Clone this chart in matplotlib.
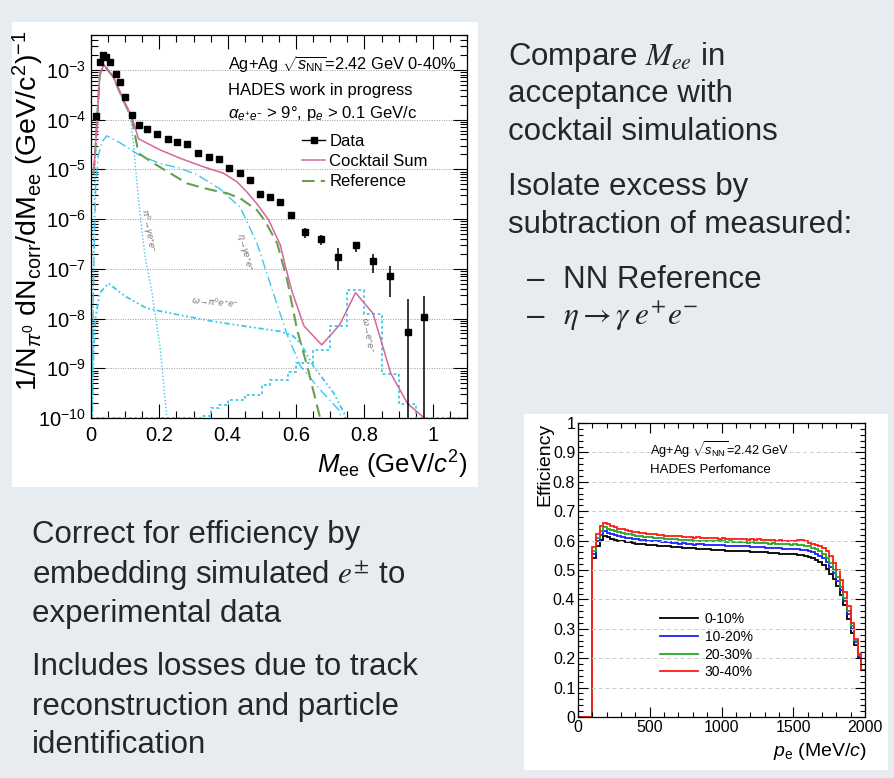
import matplotlib
matplotlib.use('Agg')
import matplotlib.pyplot as plt
from matplotlib.patches import Rectangle
from matplotlib.lines import Line2D
from matplotlib.ticker import MultipleLocator, LogLocator, NullFormatter, FuncFormatter
import numpy as np

plt.rcParams['font.family'] = ['Liberation Sans', 'DejaVu Sans']
plt.rcParams['mathtext.fontset'] = 'custom'
plt.rcParams['mathtext.rm'] = 'Liberation Sans'
plt.rcParams['mathtext.it'] = 'Liberation Sans:italic'
plt.rcParams['mathtext.bf'] = 'Liberation Sans:bold'
plt.rcParams['mathtext.sf'] = 'Liberation Sans'

# ---------------- data: dielectron invariant mass ----------------
data_m = [0.015, 0.025, 0.035, 0.045, 0.057, 0.073, 0.085, 0.100, 0.121, 0.139,
          0.165, 0.194, 0.224, 0.253, 0.282, 0.313, 0.344, 0.374, 0.404, 0.435,
          0.464, 0.494, 0.523, 0.554, 0.584, 0.625, 0.673, 0.723, 0.774, 0.824,
          0.875, 0.926, 0.975]
data_v = [1.17e-4, 1.45e-3, 2.0e-3, 1.78e-3, 1.41e-3, 8.1e-4, 5.6e-4, 2.9e-4, 1.26e-4, 7.8e-5,
          6.5e-5, 5.1e-5, 4.1e-5, 3.6e-5, 3.2e-5, 2.1e-5, 1.8e-5, 1.6e-5, 1.07e-5, 8.3e-6,
          6.2e-6, 3.2e-6, 2.8e-6, 2.24e-6, 1.2e-6, 5.4e-7, 3.9e-7, 1.7e-7, 2.95e-7, 1.45e-7,
          7.2e-8, 5.4e-9, 1.05e-8]
err_m = [0.584, 0.625, 0.673, 0.723, 0.774, 0.824, 0.875, 0.926, 0.975]
err_lo = [1.0e-6, 4.2e-7, 2.95e-7, 9.5e-8, 2.2e-7, 8.3e-8, 2.75e-8, 1e-11, 1e-11]
err_hi = [1.41e-6, 6.6e-7, 4.7e-7, 2.6e-7, 3.5e-7, 2.0e-7, 1.15e-7, 2.45e-8, 2.8e-8]

sum_m = [0.007, 0.012, 0.026, 0.038, 0.065, 0.095, 0.119, 0.139, 0.202, 0.261,
         0.329, 0.388, 0.427, 0.456, 0.486, 0.520, 0.554, 0.569, 0.588, 0.623,
         0.675, 0.727, 0.774, 0.825, 0.877, 0.926, 0.975]
sum_v = [8.3e-6, 2.1e-5, 8.5e-4, 1.26e-3, 7.4e-4, 2.5e-4, 1.15e-4, 4.1e-5, 2.45e-5, 1.66e-5,
         1.12e-5, 8.3e-6, 5.6e-6, 3.5e-6, 2.0e-6, 9.5e-7, 3.0e-7, 1.1e-7, 3.5e-8, 7.1e-9,
         2.95e-9, 7.4e-9, 3.3e-8, 1.26e-8, 7.9e-10, 1.95e-10, 1.0e-10]

ref_m = [0.007, 0.012, 0.026, 0.038, 0.065, 0.095, 0.119, 0.139, 0.183, 0.232,
         0.281, 0.329, 0.378, 0.398, 0.437, 0.486, 0.510, 0.545, 0.574, 0.603,
         0.633, 0.667, 0.680]
ref_v = [8.0e-6, 2.0e-5, 8.3e-4, 1.23e-3, 7.2e-4, 2.4e-4, 1.1e-4, 2.1e-5, 1.32e-5, 8.3e-6,
         5.2e-6, 4.2e-6, 3.5e-6, 3.3e-6, 2.6e-6, 1.5e-6, 8.9e-7, 3.2e-7, 5.9e-8, 5.9e-9,
         1.07e-9, 1.23e-10, 5e-11]

pi0_m = [0.002, 0.006, 0.010, 0.015, 0.020, 0.026, 0.036, 0.045, 0.065, 0.095,
         0.115, 0.124, 0.132, 0.139, 0.149, 0.158, 0.178, 0.202, 0.222, 0.226]
pi0_v = [6e-11, 3.2e-8, 3.2e-6, 6.3e-5, 2.8e-4, 7.6e-4, 1.2e-3, 1.17e-3, 6.9e-4, 2.3e-4,
         1.12e-4, 3.5e-5, 7.9e-6, 2.5e-6, 5.6e-7, 1.8e-7, 3.5e-8, 2.7e-9, 1.0e-10, 5e-11]

eta_m = [0.003, 0.008, 0.014, 0.022, 0.032, 0.046, 0.085, 0.140, 0.200, 0.260,
         0.310, 0.378, 0.437, 0.486, 0.529, 0.574, 0.613, 0.672, 0.725, 0.742]
eta_v = [6e-11, 1e-7, 5e-6, 2.0e-5, 3.5e-5, 4.7e-5, 3.4e-5, 1.95e-5, 1.32e-5, 1.05e-5,
         7.8e-6, 4.0e-6, 1.7e-6, 3.2e-7, 4.0e-8, 4.7e-9, 1.1e-9, 3.6e-10, 1.45e-10, 6e-11]

omdal_m = [0.003, 0.008, 0.013, 0.025, 0.051, 0.100, 0.163, 0.261, 0.359, 0.456,
           0.554, 0.590, 0.613, 0.652, 0.711, 0.741, 0.750]
omdal_v = [6e-11, 2.5e-9, 1.0e-8, 3.2e-8, 5.1e-8, 2.8e-8, 1.6e-8, 1.17e-8, 8.7e-9, 6.9e-9,
           5.5e-9, 4.5e-9, 3.2e-9, 1.07e-9, 3.1e-10, 1.23e-10, 6e-11]

omee_edges = [0.0, 0.325, 0.35, 0.375, 0.40, 0.425, 0.45, 0.475, 0.50, 0.525, 0.55,
              0.575, 0.60, 0.625, 0.65, 0.70, 0.75, 0.80, 0.85, 0.90, 0.95, 1.10]
omee_v = [1e-10, 1.1e-10, 1.6e-10, 1.8e-10, 2.3e-10, 2.3e-10, 2.9e-10, 2.9e-10, 4.6e-10,
          5.8e-10, 5.8e-10, 8.5e-10, 1.26e-9, 1.26e-9, 2.3e-9, 7.1e-9, 3.7e-8, 1.26e-8,
          7.6e-10, 1.9e-10, 1e-10]

# ---------------- data: efficiency vs momentum ----------------
p_edges = list(range(0, 2001, 25))
eff_labels = ['0-10%', '10-20%', '20-30%', '30-40%']
eff_0_10 = [0, 0, 0, 0,
    0.540, 0.580, 0.602, 0.616, 0.611, 0.606, 0.602, 0.600, 0.598, 0.596,
    0.594, 0.592, 0.590, 0.589, 0.587, 0.586, 0.585, 0.584, 0.583, 0.582,
    0.581, 0.580, 0.579, 0.578, 0.577, 0.576, 0.575, 0.574, 0.574, 0.572,
    0.572, 0.571, 0.570, 0.569, 0.568, 0.568, 0.567, 0.566, 0.566, 0.565,
    0.565, 0.564, 0.563, 0.563, 0.562, 0.562, 0.561, 0.560, 0.560, 0.559,
    0.558, 0.557, 0.556, 0.556, 0.555, 0.554, 0.553, 0.551, 0.550, 0.548,
    0.545, 0.541, 0.535, 0.528, 0.518, 0.505, 0.488, 0.468, 0.445, 0.415,
    0.380, 0.335, 0.285, 0.245, 0.200, 0.160]
eff_10_20 = [0, 0, 0, 0,
    0.555, 0.598, 0.620, 0.631, 0.627, 0.622, 0.618, 0.615, 0.612, 0.610,
    0.608, 0.606, 0.605, 0.603, 0.601, 0.600, 0.599, 0.597, 0.598, 0.596,
    0.594, 0.595, 0.593, 0.592, 0.590, 0.591, 0.589, 0.588, 0.586, 0.588,
    0.587, 0.586, 0.585, 0.586, 0.584, 0.585, 0.584, 0.583, 0.582, 0.583,
    0.582, 0.580, 0.581, 0.580, 0.579, 0.578, 0.578, 0.577, 0.576, 0.576,
    0.575, 0.574, 0.574, 0.573, 0.572, 0.571, 0.571, 0.570, 0.568, 0.567,
    0.565, 0.561, 0.556, 0.549, 0.540, 0.527, 0.510, 0.489, 0.464, 0.432,
    0.395, 0.350, 0.300, 0.255, 0.205, 0.160]
eff_20_30 = [0, 0, 0, 0,
    0.565, 0.610, 0.633, 0.645, 0.641, 0.636, 0.632, 0.628, 0.626, 0.623,
    0.621, 0.619, 0.617, 0.615, 0.613, 0.612, 0.611, 0.610, 0.608, 0.608,
    0.607, 0.605, 0.605, 0.604, 0.603, 0.602, 0.601, 0.601, 0.600, 0.599,
    0.600, 0.598, 0.597, 0.599, 0.598, 0.597, 0.599, 0.596, 0.597, 0.595,
    0.596, 0.594, 0.595, 0.593, 0.594, 0.592, 0.593, 0.591, 0.592, 0.590,
    0.591, 0.589, 0.590, 0.588, 0.587, 0.586, 0.587, 0.585, 0.584, 0.583,
    0.580, 0.576, 0.571, 0.564, 0.555, 0.541, 0.523, 0.501, 0.475, 0.443,
    0.405, 0.360, 0.310, 0.262, 0.210, 0.160]
eff_30_40 = [0, 0, 0, 0,
    0.578, 0.622, 0.648, 0.659, 0.657, 0.650, 0.645, 0.641, 0.638, 0.635,
    0.632, 0.630, 0.628, 0.626, 0.625, 0.623, 0.622, 0.621, 0.619, 0.619,
    0.617, 0.616, 0.616, 0.614, 0.614, 0.612, 0.612, 0.611, 0.610, 0.611,
    0.609, 0.609, 0.608, 0.610, 0.608, 0.607, 0.609, 0.606, 0.607, 0.605,
    0.607, 0.604, 0.606, 0.603, 0.605, 0.603, 0.604, 0.602, 0.603, 0.601,
    0.602, 0.600, 0.601, 0.599, 0.600, 0.598, 0.600, 0.603, 0.601, 0.597,
    0.593, 0.589, 0.585, 0.581, 0.576, 0.565, 0.548, 0.525, 0.500, 0.465,
    0.425, 0.378, 0.320, 0.265, 0.215, 0.160]

# ---------------- figure ----------------
W, H = 894, 778
BG = '#e7ecf0'
TXT = '#262626'
fig = plt.figure(figsize=(W / 100, H / 100), dpi=100, facecolor=BG)

def fx(x):
    return x / W

def fy(y):
    return 1 - y / H

def rect(x0, y0, x1, y1):
    return [fx(x0), fy(y1), fx(x1) - fx(x0), fy(y0) - fy(y1)]

# white panels
fig.add_artist(Rectangle((fx(12), fy(487)), fx(478) - fx(12), fy(22) - fy(487),
                         transform=fig.transFigure, facecolor='white', edgecolor='none', zorder=0))
fig.add_artist(Rectangle((fx(524), fy(770)), fx(888) - fx(524), fy(414) - fy(770),
                         transform=fig.transFigure, facecolor='white', edgecolor='none', zorder=0))

fmt_g = FuncFormatter(lambda v, p: f"{v:g}")

# ---------------- left plot ----------------
ax = fig.add_axes(rect(91, 35, 467, 418))
ax.set_yscale('log')
ax.set_xlim(0, 1.1)
ax.set_ylim(1e-10, 5e-3)

CYAN = '#3cc8f0'
PINK = '#d6649e'
GREEN = '#64a050'

ax.stairs(omee_v, omee_edges, baseline=None, color=CYAN, lw=1.3, ls=(0, (1.5, 1.5)), clip_on=False, zorder=2)
ax.plot(pi0_m, pi0_v, color=CYAN, lw=1.0, ls=(0, (1, 1.5)), zorder=2)
ax.plot(eta_m, eta_v, color=CYAN, lw=1.0, ls=(0, (7, 2.5, 1, 2.5)), zorder=2)
ax.plot(omdal_m, omdal_v, color=CYAN, lw=1.3, ls=(0, (3, 1.5, 1, 1.5, 1, 1.5)), zorder=2)
ax.plot(ref_m, ref_v, color=GREEN, lw=1.5, ls=(0, (6, 3)), zorder=3)
ax.plot(sum_m, sum_v, color=PINK, lw=1.1, zorder=4)
ax.vlines(err_m, err_lo, err_hi, color='black', lw=1.1, zorder=5)
ax.plot(data_m, data_v, 's', color='black', ms=5, zorder=6)

ax.yaxis.set_major_locator(LogLocator(base=10, numticks=20))
ax.yaxis.set_minor_locator(LogLocator(base=10, subs=np.arange(2, 10), numticks=20))
ax.yaxis.set_minor_formatter(NullFormatter())
ax.xaxis.set_major_locator(MultipleLocator(0.2))
ax.xaxis.set_minor_locator(MultipleLocator(0.05))
ax.xaxis.set_major_formatter(fmt_g)
ax.tick_params(which='both', direction='in', top=True, right=True, labelsize=14.5, colors='black')
ax.tick_params(which='major', length=10, width=0.8)
ax.tick_params(which='minor', length=5, width=0.8)
ax.tick_params(axis='x', pad=6)
ax.grid(True, axis='y', which='major', ls=(0, (1, 1.5)), color='#999999', lw=0.7)
for s in ax.spines.values():
    s.set_linewidth(0.9)

ax.text(0.364, 0.909, r'Ag+Ag $\sqrt{s_{\rm NN}}$=2.42 GeV 0-40%', transform=ax.transAxes,
        fontsize=11.8, va='baseline', ha='left')
ax.text(0.364, 0.843, 'HADES work in progress', transform=ax.transAxes,
        fontsize=12, va='baseline', ha='left')
ax.text(0.364, 0.783, r'$\alpha_{e^{+}e^{-}}$ > 9°, p$_{e}$ > 0.1 GeV/c', transform=ax.transAxes,
        fontsize=12, va='baseline', ha='left')

handles = [Line2D([], [], color='black', marker='s', ms=4.5, lw=1.0),
           Line2D([], [], color=PINK, lw=1.1),
           Line2D([], [], color=GREEN, lw=1.5, ls=(0, (6, 3)))]
ax.legend(handles, ['Data', 'Cocktail Sum', 'Reference'], loc='upper left',
          bbox_to_anchor=(0.561, 0.742), frameon=False, fontsize=12,
          handlelength=1.4, handletextpad=0.25, labelspacing=0.32, borderpad=0, borderaxespad=0)

lab_kw = dict(fontsize=6.5, color='#6e6e6e', ha='center', va='center')
ax.text(0.150, 0.49, r'$\pi^{0}\!\rightarrow\!\gamma e^{+}e^{-}$', transform=ax.transAxes, rotation=-80, **lab_kw)
ax.text(0.408, 0.432, r'$\eta\!\rightarrow\!\gamma e^{+}e^{-}$', transform=ax.transAxes, rotation=-76, **lab_kw)
ax.text(0.330, 0.303, r'$\omega\!\rightarrow\!\pi^{0}e^{+}e^{-}$', transform=ax.transAxes, rotation=-5, **lab_kw)
ax.text(0.737, 0.217, r'$\omega\!\rightarrow\!e^{+}e^{-}$', transform=ax.transAxes, rotation=-80, **lab_kw)

fig.text(fx(467), fy(474), r'$M_{\rm ee}$ (GeV/$c^{2}$)', fontsize=18.5, ha='right', va='baseline')
fig.text(fx(28), fy(30), r'1/N$_{\pi^{0}}$ dN$_{\rm corr}$/dM$_{\rm ee}$ (GeV/c$^{2}$)$^{-1}$',
         fontsize=20.5, rotation=90, ha='center', va='top')

# ---------------- right plot ----------------
ax2 = fig.add_axes(rect(578, 423, 865, 717))
ax2.set_xlim(0, 2000)
ax2.set_ylim(0, 1)
colors = ['black', '#1f1fff', '#22aa22', '#ff1a1a']
for lab, vals, c in zip(eff_labels, [eff_0_10, eff_10_20, eff_20_30, eff_30_40], colors):
    ax2.stairs(vals, p_edges, baseline=None, color=c, lw=1.3, label=lab)
ax2.xaxis.set_major_locator(MultipleLocator(500))
ax2.xaxis.set_minor_locator(MultipleLocator(100))
ax2.yaxis.set_major_locator(MultipleLocator(0.1))
ax2.yaxis.set_minor_locator(MultipleLocator(0.02))
ax2.xaxis.set_major_formatter(fmt_g)
ax2.yaxis.set_major_formatter(fmt_g)
ax2.tick_params(which='both', direction='in', top=True, right=True, labelsize=11.5)
ax2.tick_params(which='major', length=7, width=0.8)
ax2.tick_params(which='minor', length=3.5, width=0.8)
ax2.tick_params(axis='y', pad=2)
ax2.tick_params(axis='x', pad=2)
ax2.grid(True, axis='y', which='major', ls=(0, (4, 3)), color='#cccccc', lw=0.7)
for s in ax2.spines.values():
    s.set_linewidth(0.9)
ax2.text(0.251, 0.891, r'Ag+Ag $\sqrt{s_{\rm NN}}$=2.42 GeV', transform=ax2.transAxes,
         fontsize=9.2, va='baseline')
ax2.text(0.251, 0.830, 'HADES Perfomance', transform=ax2.transAxes, fontsize=9.5, va='baseline')
ax2.legend(loc='upper left', bbox_to_anchor=(0.286, 0.357), frameon=False, fontsize=10,
           handlelength=2.7, handletextpad=0.5, labelspacing=0.27, borderpad=0, borderaxespad=0)
fig.text(fx(545), fy(423), 'Efficiency', fontsize=14, rotation=90, ha='center', va='top')
fig.text(fx(867), fy(756), r'$p_{\rm e}$ (MeV/$c$)', fontsize=14, ha='right', va='baseline')

# ---------------- slide text ----------------
tk = dict(fontsize=22.5, color=TXT, ha='left', va='baseline', math_fontfamily='stix')
fig.text(fx(508), fy(65), r'Compare $M_{ee}$ in', **tk)
fig.text(fx(508), fy(102), 'acceptance with', **tk)
fig.text(fx(508), fy(140), 'cocktail simulations', **tk)
fig.text(fx(508), fy(195), 'Isolate excess by', **tk)
fig.text(fx(508), fy(233), 'subtraction of measured:', **tk)
fig.text(fx(527), fy(288), '–', **tk)
fig.text(fx(563), fy(288), 'NN Reference', **tk)
fig.text(fx(527), fy(325), '–', **tk)
fig.text(fx(563), fy(325), r'$\eta \rightarrow \gamma\; e^{+}e^{-}$', **tk)

fig.text(fx(32), fy(543), 'Correct for efficiency by', **tk)
fig.text(fx(32), fy(583), r'embedding simulated $e^{\pm}$ to', **tk)
fig.text(fx(32), fy(622), 'experimental data', **tk)
fig.text(fx(32), fy(675), 'Includes losses due to track', **tk)
fig.text(fx(32), fy(715), 'reconstruction and particle', **tk)
fig.text(fx(32), fy(753), 'identification', **tk)

fig.savefig('out.png', dpi=100, facecolor=BG)
